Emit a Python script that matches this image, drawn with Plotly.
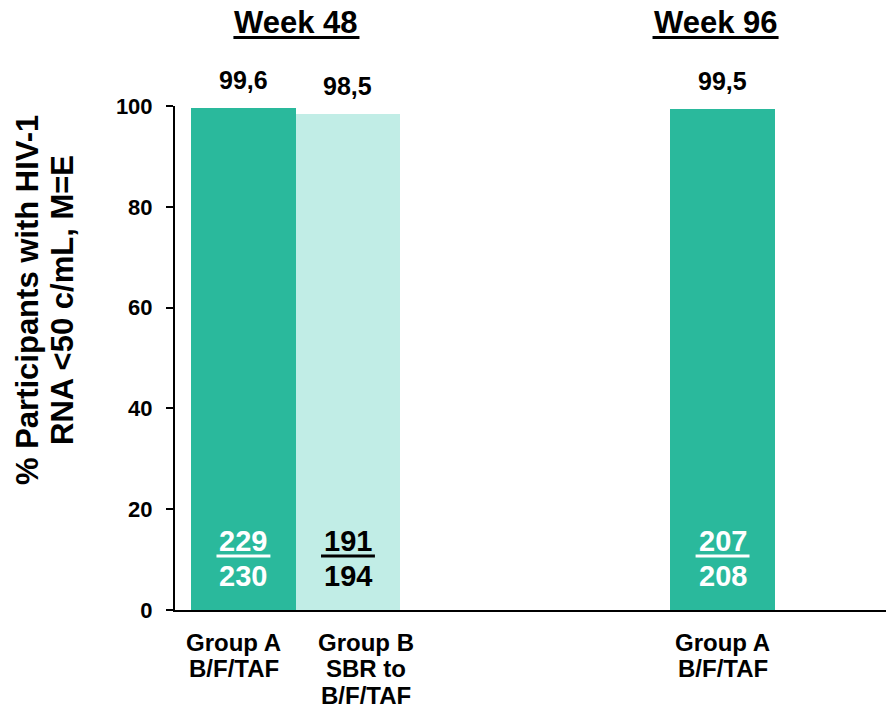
import plotly.graph_objects as go

# Response rates (% with HIV-1 RNA <50 c/mL, M=E)
group_lines = [["Group A", "B/F/TAF"], ["Group B", "SBR to", "B/F/TAF"], ["Group A", "B/F/TAF"]]
rates = [99.6, 98.5, 99.5]
responders = [229, 191, 207]
totals = [230, 194, 208]
tick_vals = [0, 20, 40, 60, 80, 100]
y_title_lines = ["% Participants with HIV-1", "RNA <50 c/mL, M=E"]

# bar layout (x positions in bar-width units) and styling
x_pos = [0, 1, 4.584]
label_nudge = [-9.5, 18, 0]  # px offsets of the group labels under the bars
bar_colors = ["#2ab99c", "#c1ede6", "#2ab99c"]
frac_colors = ["white", "black", "white"]
week_heads = [("Week 48", 0.507), ("Week 96", 4.517)]

FONT = "Arial, Liberation Sans, sans-serif"

fig = go.Figure()
fig.add_trace(go.Bar(
    x=x_pos, y=rates, width=1.0,
    marker=dict(color=bar_colors, line=dict(width=0)),
    hoverinfo="skip",
))

annotations = []
shapes = []

# value labels, fractions and group labels per bar
for xp, r, n, d, fc, lines, nudge in zip(x_pos, rates, responders, totals,
                                         frac_colors, group_lines, label_nudge):
    annotations.append(dict(
        x=xp, y=r, xref="x", yref="y", text=f"<b>{str(r).replace('.', ',')}</b>",
        showarrow=False, yanchor="middle", yshift=28,
        font=dict(family=FONT, size=25, color="black"),
    ))
    annotations.append(dict(
        x=xp, y=13.6, xref="x", yref="y", text=f"<b>{n}</b>",
        showarrow=False, yanchor="middle",
        font=dict(family=FONT, size=29, color=fc),
    ))
    annotations.append(dict(
        x=xp, y=6.7, xref="x", yref="y", text=f"<b>{d}</b>",
        showarrow=False, yanchor="middle",
        font=dict(family=FONT, size=29, color=fc),
    ))
    shapes.append(dict(
        type="line", xref="x", yref="y", x0=xp - 0.258, x1=xp + 0.258,
        y0=10.7, y1=10.7, line=dict(color=fc, width=3),
    ))
    for i, ln in enumerate(lines):
        annotations.append(dict(
            x=xp, y=0, xref="x", yref="y", text=f"<b>{ln}</b>",
            showarrow=False, yanchor="middle", xshift=nudge,
            yshift=-(32 + 26.5 * i),
            font=dict(family=FONT, size=24, color="black"),
        ))

# week headers with thick underline
for label, xc in week_heads:
    annotations.append(dict(
        x=xc, y=1, xref="x", yref="paper", text=f"<b>{label}</b>",
        showarrow=False, yanchor="middle", yshift=84,
        font=dict(family=FONT, size=31, color="black"),
    ))
    shapes.append(dict(
        type="line", xref="x", yref="paper", ysizemode="pixel", yanchor=1,
        x0=xc - 0.603, x1=xc + 0.603, y0=68.5, y1=68.5,
        line=dict(color="black", width=3),
    ))

# y-axis title, two rotated lines
for i, ln in enumerate(y_title_lines):
    annotations.append(dict(
        x=0, y=0.5, xref="paper", yref="paper", text=f"<b>{ln}</b>",
        showarrow=False, textangle=-90, xanchor="center", yanchor="middle",
        xshift=-(148 - 35 * i), yshift=58,
        font=dict(family=FONT, size=31, color="black"),
    ))

fig.update_layout(
    width=886, height=714,
    margin=dict(l=175, r=0, t=106, b=104),
    plot_bgcolor="white", paper_bgcolor="white",
    showlegend=False,
    bargap=0,
    font=dict(family=FONT, color="black"),
    annotations=annotations,
    shapes=shapes,
    xaxis=dict(
        range=[-0.655, 6.148],
        showticklabels=False,
        ticks="", showline=True, linecolor="black", linewidth=2,
        showgrid=False, zeroline=False, fixedrange=True,
    ),
    yaxis=dict(
        range=[0, 100], tickvals=tick_vals,
        ticktext=[f"<b>{v}</b>" for v in tick_vals],
        tickfont=dict(family=FONT, size=22, color="black"),
        ticks="outside", ticklen=7, tickwidth=2, tickcolor="black",
        ticklabelstandoff=9,
        showline=True, linecolor="black", linewidth=2,
        showgrid=False, zeroline=False,
    ),
)

fig.write_html("out.html")
